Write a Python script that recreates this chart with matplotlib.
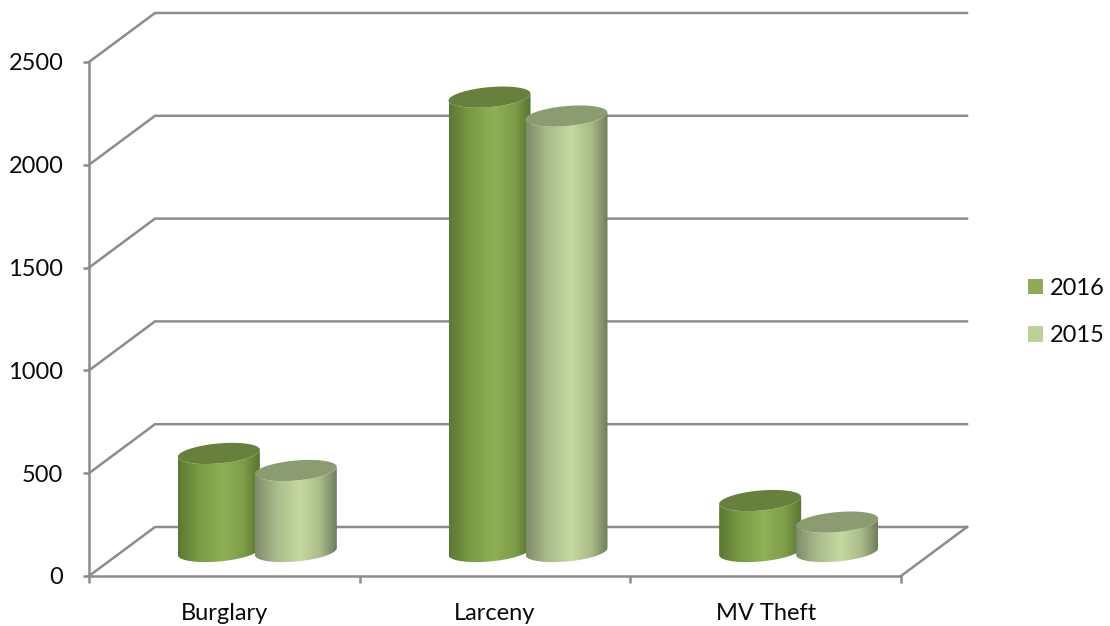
import numpy as np
import matplotlib
matplotlib.use("Agg")
import matplotlib.pyplot as plt
from matplotlib.colors import LinearSegmentedColormap
from matplotlib.patches import Polygon, Patch

categories = ["Burglary", "Larceny", "MV Theft"]
values_2016 = [477, 2210, 248]
values_2015 = [394, 2118, 143]
series_names = ["2016", "2015"]
y_ticks = [0, 500, 1000, 1500, 2000, 2500]

W, H = 1110, 626
L, R, T, B = 89, 901, 62, 576
plt.rcParams["font.family"] = ["Lato", "DejaVu Sans"]
fig = plt.figure(figsize=(W / 100, H / 100), dpi=100, facecolor="white")
ax = fig.add_axes([L / W, 1 - B / H, (R - L) / W, (B - T) / H])
ax.set_xlim(0, 3)
ax.set_ylim(0, 2500)
px_x = 3 / (R - L)
px_y = 2500 / (B - T)

GRID = "#8c8c8c"
LW = 1.8
FS = 17
TXT = "#0a0a0a"
depth_x, depth_y = 66 * px_x, 49 * px_y

for lv in y_ticks:
    ax.plot([0, depth_x, 3 + depth_x], [lv, lv + depth_y, lv + depth_y],
            color=GRID, lw=LW, clip_on=False, zorder=1, solid_joinstyle="miter")
ax.plot([3, 3 + depth_x], [0, depth_y], color=GRID, lw=LW, clip_on=False, zorder=1)

for s in ("top", "right"):
    ax.spines[s].set_visible(False)
for s in ("left", "bottom"):
    ax.spines[s].set_color(GRID)
    ax.spines[s].set_linewidth(LW)
    ax.spines[s].set_zorder(2)

ax.set_yticks(y_ticks)
ax.set_xticks(range(len(categories) + 1))
ax.set_xticklabels([])
ax.set_xticks(np.arange(len(categories)) + 0.5, minor=True)
ax.set_xticklabels(categories, minor=True)
ax.tick_params(axis="x", which="major", length=5, width=LW, color=GRID)
ax.tick_params(axis="x", which="minor", length=0, pad=19.5, labelsize=FS, labelcolor=TXT)
ax.tick_params(axis="y", length=4, width=LW, color=GRID, pad=14.5, labelsize=FS, labelcolor=TXT)

stops = [0, 0.25, 0.55, 0.8, 1]
cmap_dark = LinearSegmentedColormap.from_list(
    "d", list(zip(stops, ["#5b7832", "#7a9a45", "#8fb055", "#7e9d48", "#587330"])))
cmap_light = LinearSegmentedColormap.from_list(
    "l", list(zip(stops, ["#7d8c6a", "#a8ba8a", "#c5d9a0", "#a9bb88", "#6e7d5c"])))
grad = np.linspace(0, 1, 256)[None, :]

half_w = 41 * px_x
step = 38.5 * px_x
ell_b = 10 * px_y
ell_s = 3.5 * px_y
t = np.linspace(0, 2 * np.pi, 121)


def cylinder(cx, base, value, cmap, top_color, z):
    def ex(tt):
        return cx + half_w * np.cos(tt)

    def ey(tt, c):
        return c + ell_s * np.cos(tt) + ell_b * np.sin(tt)

    lower = np.linspace(np.pi, 2 * np.pi, 60)
    upper = lower[::-1]
    top = base + value
    xs = np.r_[ex(lower), ex(upper)]
    ys = np.r_[ey(lower, base), ey(upper, top)]
    body = Polygon(np.c_[xs, ys], closed=True, fc="none", ec="none", zorder=z)
    ax.add_patch(body)
    img = ax.imshow(grad, cmap=cmap, aspect="auto", zorder=z, interpolation="bilinear",
                    extent=[cx - half_w, cx + half_w, base - 3 * ell_b, top + 3 * ell_b])
    img.set_clip_path(body)
    cap = Polygon(np.c_[ex(t), ey(t, top)], closed=True, fc=top_color, ec="none", zorder=z + 0.1)
    ax.add_patch(cap)


for i in range(len(categories)):
    cx = i + 0.5 + depth_x / 2
    base = depth_y / 2
    cylinder(cx - step, base, values_2016[i], cmap_dark, "#67803b", 3 + i)
    cylinder(cx + step, base, values_2015[i], cmap_light, "#8b9d70", 3.5 + i)

ax.set_xlim(0, 3)
ax.set_ylim(0, 2500)

handles = [Patch(fc="#8fab56", ec="none"), Patch(fc="#bcd09a", ec="none")]
fig.legend(handles, series_names, loc="center left", bbox_to_anchor=(1028 / W, 1 - 312 / H),
           bbox_transform=fig.transFigure, frameon=False, fontsize=FS,
           handlelength=0.64, handleheight=0.64, handletextpad=0.3,
           labelspacing=1.12, borderpad=0, borderaxespad=0, labelcolor=TXT)

fig.savefig("out.png", dpi=100, facecolor="white")
